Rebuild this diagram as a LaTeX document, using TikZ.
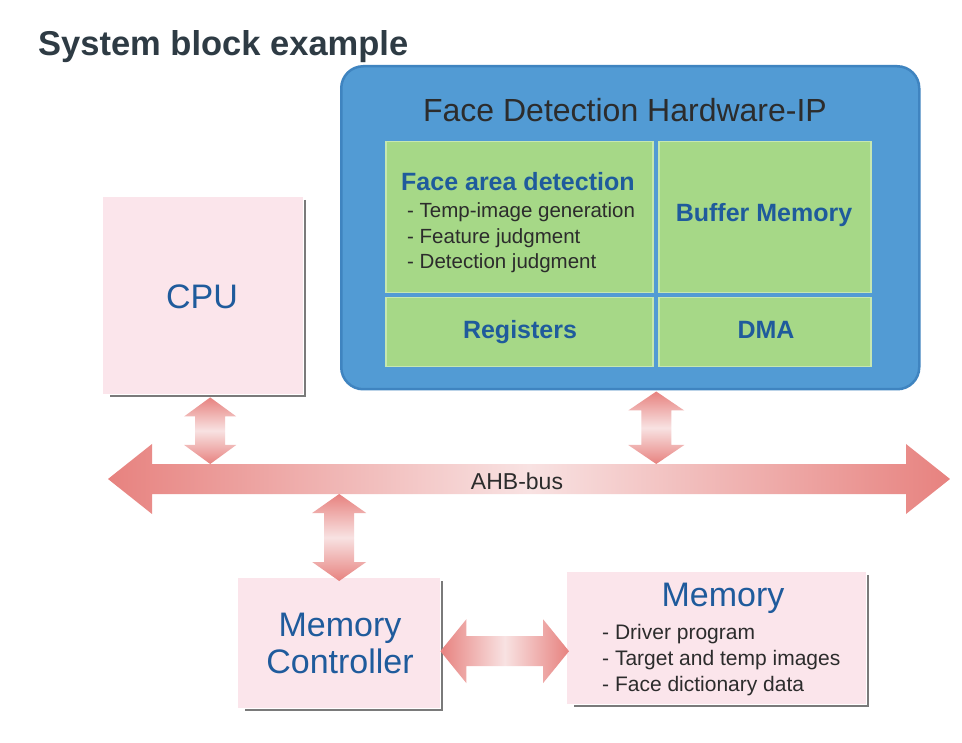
\documentclass[tikz,border=0pt]{standalone}
\usepackage{fontspec}
\setmainfont{Liberation Sans}
\usetikzlibrary{calc}

\definecolor{hwblue}{HTML}{529BD4}
\definecolor{hwedge}{HTML}{3F84C0}
\definecolor{blockgreen}{HTML}{A6D887}
\definecolor{greenedge}{HTML}{C6E7B0}
\definecolor{blockpink}{HTML}{FBE5EB}
\definecolor{shadowgray}{HTML}{7A7A7A}
\definecolor{labelblue}{HTML}{1F5B9C}
\definecolor{titlegray}{HTML}{2E3B44}
\definecolor{textgray}{HTML}{2C2C2C}
\definecolor{arrowred}{HTML}{E7827F}
\definecolor{arrowpale}{HTML}{F8E2E2}

\newcommand{\fs}[1]{\fontsize{#1}{#1}\selectfont}

% fat vertical double arrow: #1 upper tip, #2 lower tip, #3 head half-width, #4 shaft half-width
\newcommand{\vlink}[4]{%
  \path[top color=arrowred, bottom color=arrowred, middle color=arrowpale]
    (#1) -- ($(#1)+(#3,-19pt)$) -- ($(#1)+(#4,-19pt)$)
    -- ($(#2)+(#4,19pt)$) -- ($(#2)+(#3,19pt)$) -- (#2)
    -- ($(#2)+(-#3,19pt)$) -- ($(#2)+(-#4,19pt)$)
    -- ($(#1)+(-#4,-19pt)$) -- ($(#1)+(-#3,-19pt)$) -- cycle;}

% fat horizontal double arrow: #1 left tip, #2 right tip, #3 head half-height, #4 shaft half-height, #5 head length
\newcommand{\hlink}[5]{%
  \path[left color=arrowred, right color=arrowred, middle color=arrowpale]
    (#1) -- ($(#1)+(#5,#3)$) -- ($(#1)+(#5,#4)$)
    -- ($(#2)+(-#5,#4)$) -- ($(#2)+(-#5,#3)$) -- (#2)
    -- ($(#2)+(-#5,-#3)$) -- ($(#2)+(-#5,-#4)$)
    -- ($(#1)+(#5,-#4)$) -- ($(#1)+(#5,-#3)$) -- cycle;}

\begin{document}
\begin{tikzpicture}[x=1pt,y=-1pt,
  pinkblock/.style={fill=blockpink, draw=none, inner sep=0pt, anchor=north west},
  greenblock/.style={fill=blockgreen, draw=greenedge, line width=1.5pt, inner sep=0pt, anchor=north west},
  shadowline/.style={draw=shadowgray, line width=2pt},
  bluelabel/.style={text=labelblue, inner sep=0pt},
  boldlabel/.style={text=labelblue, inner sep=0pt, font=\fs{25}\bfseries},
  itemtext/.style={text=textgray, inner sep=0pt, anchor=base west}]

\useasboundingbox[fill=white] (0,0) rectangle (962,743);

% heading
\node[anchor=base west, inner sep=0pt, text=titlegray, font=\fs{34.5}\bfseries] (title) at (38,56) {System block example};

% hardware IP block
\node[fill=hwblue, draw=hwedge, line width=2.5pt, rounded corners=22pt,
      minimum width=578pt, minimum height=323pt, anchor=north west, inner sep=0pt] (hw) at (340,65) {};
\node[inner sep=0pt, text=textgray, font=\fs{32}] (hwtitle) at (625,110) {Face Detection Hardware-IP};

\node[greenblock, minimum width=267pt, minimum height=151pt] (fad) at (385,141) {};
\node[greenblock, minimum width=212pt, minimum height=151pt] (buf) at (658,141) {};
\node[greenblock, minimum width=267pt, minimum height=69pt] (reg) at (385,297) {};
\node[greenblock, minimum width=212pt, minimum height=69pt] (dma) at (658,297) {};

\node[boldlabel, anchor=base west] (fadtitle) at (401,191) {Face area detection};
\node[itemtext, font=\fs{20.5}] (fad1) at (407,218) {- Temp-image generation};
\node[itemtext, font=\fs{20.5}] (fad2) at (407,244) {- Feature judgment};
\node[itemtext, font=\fs{20.5}] (fad3) at (407,269) {- Detection judgment};
\node[boldlabel] (buftext) at (764,215) {Buffer Memory};
\node[boldlabel] (regtext) at (520,332) {Registers};
\node[boldlabel] (dmatext) at (766,330) {DMA};

% CPU
\node[pinkblock, minimum width=200pt, minimum height=197pt] (cpu) at (103,197) {};
\draw[shadowline] ([xshift=2pt,yshift=-3pt]cpu.north east) -- ([xshift=2pt,yshift=-2pt]cpu.south east) -- ([xshift=7pt,yshift=-2pt]cpu.south west);
\node[bluelabel, font=\fs{34}] (cputext) at (202,297) {CPU};

% memory controller
\node[pinkblock, minimum width=202pt, minimum height=130pt] (mc) at (238,578) {};
\draw[shadowline] ([xshift=2pt,yshift=-3pt]mc.north east) -- ([xshift=2pt,yshift=-2pt]mc.south east) -- ([xshift=7pt,yshift=-2pt]mc.south west);
\node[bluelabel, font=\fontsize{34}{37}\selectfont, align=center] (mctext) at (340,643) {Memory\\Controller};

% memory
\node[pinkblock, minimum width=299pt, minimum height=132pt] (mem) at (567,572) {};
\draw[shadowline] ([xshift=2pt,yshift=-3pt]mem.north east) -- ([xshift=2pt,yshift=-2pt]mem.south east) -- ([xshift=7pt,yshift=-2pt]mem.south west);
\node[bluelabel, font=\fs{34}] (memtext) at (723,598) {Memory};
\node[itemtext, font=\fs{21}] (mem1) at (602,639) {- Driver program};
\node[itemtext, font=\fs{21}] (mem2) at (602,665) {- Target and temp images};
\node[itemtext, font=\fs{21}] (mem3) at (602,691) {- Face dictionary data};

% AHB bus
\coordinate (busW) at (108,479);
\coordinate (busE) at (950,479);
\coordinate (busTop) at (0,464);
\coordinate (busBot) at (0,494);
\hlink{busW}{busE}{35pt}{15pt}{44pt}
\node[inner sep=0pt, text=textgray, font=\fs{23}] (bustext) at (517,481) {AHB-bus};

% links to the bus
\coordinate (cpuport) at ([xshift=7pt,yshift=-3pt]cpu.south);
\coordinate (hwport) at ([xshift=26pt,yshift=-1pt]hw.south);
\coordinate (mcport) at ([yshift=-3pt]mc.north);
\vlink{cpuport}{cpuport |- busTop}{26pt}{15pt}
\vlink{hwport}{hwport |- busTop}{28pt}{15pt}
\vlink{mcport |- busBot}{mcport}{27pt}{15pt}

% controller to memory
\coordinate (mcside) at ([yshift=-8pt]mc.east);
\coordinate (memside) at ([xshift=2pt]mcside -| mem.west);
\hlink{mcside}{memside}{32pt}{15pt}{26pt}

\end{tikzpicture}
\end{document}
